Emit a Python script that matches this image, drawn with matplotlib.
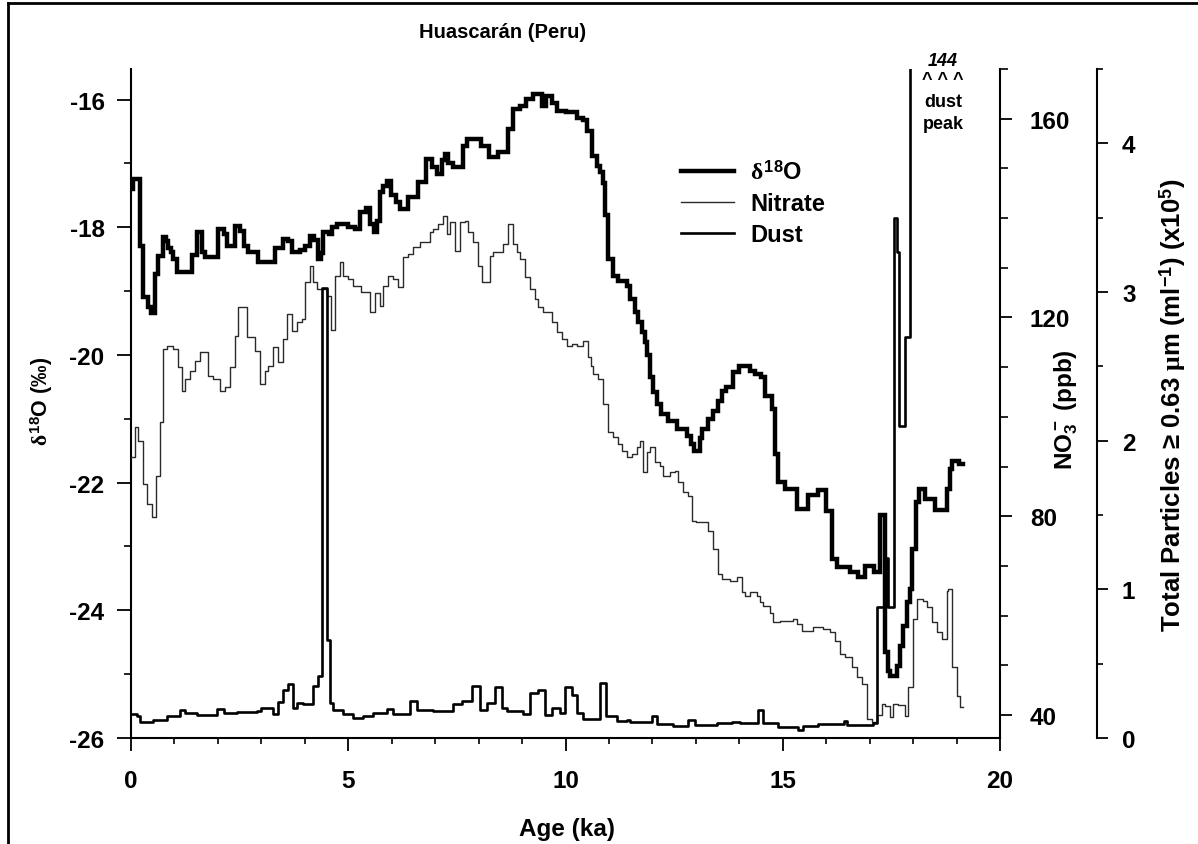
import numpy as np
import matplotlib
matplotlib.use("Agg")
import matplotlib.pyplot as plt
from matplotlib.lines import Line2D
from matplotlib.ticker import MultipleLocator

# ---------------------------------------------------------------- data
# Huascaran ice core records, step values (age in ka BP at start of each step)
d18o_age = [0.00, 0.05, 0.21, 0.28, 0.38, 0.45, 0.55, 0.63, 0.74, 0.80, 0.86, 0.92,
            0.97, 1.05, 1.40, 1.51, 1.63, 1.70, 2.00, 2.15, 2.20, 2.40, 2.50, 2.60,
            2.70, 2.93, 3.31, 3.50, 3.62, 3.70, 3.90, 4.00, 4.12, 4.22, 4.30, 4.37,
            4.42, 4.55, 4.62, 4.75, 5.00, 5.15, 5.27, 5.40, 5.50, 5.60, 5.67, 5.73,
            5.80, 5.90, 5.98, 6.10, 6.18, 6.38, 6.60, 6.80, 6.92, 7.05, 7.15, 7.22,
            7.30, 7.40, 7.65, 7.73, 8.05, 8.25, 8.45, 8.68, 8.80, 8.95, 9.10, 9.25,
            9.45, 9.55, 9.70, 9.80, 10.00, 10.27, 10.40, 10.50, 10.60, 10.72, 10.80,
            10.87, 10.92, 10.98, 11.10, 11.20, 11.42, 11.48, 11.60, 11.67, 11.76,
            11.83, 11.88, 11.95, 12.02, 12.10, 12.20, 12.35, 12.57, 12.80, 12.88,
            12.95, 13.10, 13.15, 13.28, 13.40, 13.50, 13.60, 13.70, 13.85, 14.00,
            14.25, 14.35, 14.50, 14.60, 14.75, 14.82, 14.90, 15.05, 15.33, 15.58,
            15.80, 16.00, 16.13, 16.25, 16.55, 16.73, 16.90, 17.10, 17.24, 17.36,
            17.42, 17.47, 17.63, 17.70, 17.77, 17.85, 17.92, 17.98, 18.06, 18.13,
            18.27, 18.50, 18.78, 18.84, 18.90, 19.05]
d18o_val = [-17.40, -17.25, -18.29, -19.09, -19.25, -19.35, -18.73, -18.45, -18.15,
            -18.22, -18.32, -18.38, -18.50, -18.70, -18.43, -18.07, -18.38, -18.47,
            -18.03, -18.10, -18.29, -17.98, -18.05, -18.29, -18.38, -18.54, -18.32,
            -18.18, -18.22, -18.39, -18.35, -18.29, -18.14, -18.20, -18.50, -18.40,
            -18.07, -18.10, -18.00, -17.95, -18.00, -18.03, -17.76, -17.70, -17.95,
            -18.07, -17.90, -17.44, -17.35, -17.27, -17.50, -17.60, -17.71, -17.52,
            -17.29, -16.93, -17.05, -17.17, -16.95, -16.85, -17.00, -17.05, -16.73,
            -16.62, -16.73, -16.90, -16.82, -16.46, -16.15, -16.10, -15.99, -15.91,
            -16.10, -15.95, -16.05, -16.18, -16.20, -16.28, -16.32, -16.49, -16.88,
            -17.04, -17.13, -17.30, -17.80, -18.50, -18.76, -18.84, -18.92, -19.12,
            -19.33, -19.48, -19.64, -19.80, -20.00, -20.34, -20.58, -20.77, -20.92,
            -21.04, -21.16, -21.27, -21.40, -21.50, -21.30, -21.16, -21.00, -20.88,
            -20.72, -20.56, -20.50, -20.27, -20.17, -20.25, -20.30, -20.34, -20.64,
            -20.85, -21.55, -21.99, -22.10, -22.41, -22.20, -22.12, -22.44, -23.20,
            -23.32, -23.40, -23.48, -23.30, -23.40, -22.50, -24.65, -24.95, -25.03,
            -24.87, -24.56, -24.25, -23.87, -23.67, -23.04, -22.30, -22.10, -22.25,
            -22.43, -22.10, -21.79, -21.66, -21.70]
d18o_end = 19.15

nitrate_age = [0.00, 0.09, 0.17, 0.28, 0.37, 0.48, 0.58, 0.67, 0.74, 0.82, 0.97, 1.08,
               1.17, 1.24, 1.36, 1.47, 1.59, 1.77, 1.89, 2.05, 2.16, 2.28, 2.39, 2.46,
               2.67, 2.85, 2.97, 3.08, 3.15, 3.27, 3.39, 3.50, 3.59, 3.70, 3.82, 3.93,
               4.00, 4.12, 4.20, 4.28, 4.50, 4.60, 4.70, 4.81, 4.88, 5.00, 5.10, 5.30,
               5.50, 5.62, 5.73, 5.80, 5.92, 6.03, 6.15, 6.26, 6.38, 6.49, 6.65, 6.88,
               6.95, 7.07, 7.18, 7.27, 7.34, 7.46, 7.57, 7.69, 7.76, 7.87, 7.99, 8.08,
               8.26, 8.33, 8.56, 8.68, 8.80, 8.88, 8.95, 9.07, 9.18, 9.30, 9.37, 9.48,
               9.69, 9.80, 9.92, 10.03, 10.15, 10.26, 10.40, 10.52, 10.58, 10.63,
               10.75, 10.87, 10.98, 11.10, 11.20, 11.30, 11.41, 11.53, 11.65, 11.71,
               11.78, 11.87, 11.95, 12.06, 12.17, 12.24, 12.40, 12.52, 12.59, 12.70,
               12.82, 12.90, 13.00, 13.28, 13.40, 13.51, 13.60, 13.79, 13.95, 14.06,
               14.13, 14.25, 14.40, 14.47, 14.55, 14.70, 14.78, 14.94, 15.10, 15.24,
               15.33, 15.44, 15.70, 15.93, 16.09, 16.20, 16.32, 16.43, 16.59, 16.71,
               16.82, 16.94, 17.05, 17.17, 17.28, 17.35, 17.47, 17.54, 17.65, 17.81,
               17.88, 18.00, 18.09, 18.23, 18.32, 18.43, 18.55, 18.66, 18.78, 18.80,
               18.90, 19.00, 19.08]
nitrate_val = [91.9, 98.0, 95.2, 86.5, 82.5, 79.9, 88.1, 99.0, 113.7, 114.3, 113.7,
               110.0, 105.2, 107.6, 109.3, 111.3, 113.1, 108.3, 107.6, 105.2, 106.0,
               110.0, 116.3, 122.1, 116.1, 113.3, 106.6, 109.3, 110.3, 114.1, 111.1,
               115.7, 120.7, 117.3, 119.1, 119.7, 127.2, 130.4, 127.2, 125.8, 124.4,
               117.5, 128.4, 131.2, 128.4, 127.8, 126.4, 125.2, 121.1, 125.0, 122.3,
               126.4, 128.4, 127.8, 126.2, 132.2, 132.8, 134.2, 135.2, 137.2, 137.8,
               138.9, 140.5, 136.8, 139.3, 133.4, 139.3, 139.5, 137.2, 135.2, 130.4,
               127.2, 132.4, 133.2, 134.8, 138.9, 134.8, 133.2, 131.8, 128.2, 125.8,
               123.8, 122.1, 121.1, 119.1, 117.1, 115.7, 114.3, 114.7, 114.3, 115.3,
               112.1, 110.3, 108.7, 107.6, 102.6, 97.0, 96.0, 94.6, 93.2, 91.9, 92.5,
               94.0, 95.2, 88.9, 93.0, 94.0, 90.9, 90.1, 88.1, 88.9, 89.1, 86.9, 84.9,
               84.1, 79.1, 78.9, 77.0, 73.4, 68.4, 67.4, 67.0, 67.8, 64.8, 64.0, 64.8,
               64.0, 62.8, 62.0, 60.5, 58.7, 58.9, 58.9, 59.3, 58.3, 56.9, 57.7, 57.3,
               56.7, 54.9, 52.3, 51.7, 49.7, 47.7, 46.2, 39.2, 38.6, 40.0, 42.2, 41.8,
               39.6, 42.2, 42.0, 39.8, 45.6, 59.3, 63.4, 62.9, 61.7, 58.7, 56.7, 55.3,
               65.0, 65.4, 49.7, 43.9, 41.6]
nitrate_end = 19.15

dust_age = [0.00, 0.13, 0.20, 0.50, 0.82, 1.13, 1.24, 1.52, 1.97, 2.13, 2.43, 2.90,
            3.00, 3.27, 3.39, 3.50, 3.62, 3.73, 3.82, 3.97, 4.20, 4.30, 4.39, 4.51,
            4.58, 4.65, 4.88, 5.10, 5.35, 5.57, 5.90, 6.03, 6.42, 6.58, 6.95, 7.41,
            7.62, 7.85, 8.03, 8.19, 8.38, 8.54, 8.65, 9.02, 9.18, 9.37, 9.53, 9.69,
            9.87, 9.99, 10.15, 10.26, 10.40, 10.80, 10.93, 11.18, 11.41, 11.48, 12.00,
            12.10, 12.47, 12.82, 12.98, 13.49, 13.83, 14.02, 14.43, 14.55, 14.90,
            15.35, 15.47, 15.80, 16.40, 16.48, 17.08, 17.17, 17.38, 17.43, 17.55,
            17.63, 17.68, 17.82, 17.92]
dust_val = [0.16, 0.15, 0.11, 0.12, 0.15, 0.19, 0.17, 0.155, 0.195, 0.17, 0.175, 0.18,
            0.20, 0.16, 0.24, 0.32, 0.36, 0.20, 0.235, 0.23, 0.35, 0.42, 3.03, 0.66,
            0.235, 0.19, 0.16, 0.135, 0.15, 0.17, 0.195, 0.16, 0.25, 0.19, 0.18, 0.23,
            0.25, 0.35, 0.19, 0.235, 0.34, 0.20, 0.18, 0.16, 0.30, 0.32, 0.155, 0.20,
            0.17, 0.34, 0.29, 0.17, 0.13, 0.37, 0.15, 0.115, 0.12, 0.105, 0.15, 0.095,
            0.08, 0.12, 0.085, 0.10, 0.11, 0.10, 0.19, 0.10, 0.075, 0.055, 0.08, 0.095,
            0.115, 0.09, 0.10, 0.88, 1.21, 0.88, 3.50, 3.27, 2.10, 2.70, 144.0]
dust_end = 18.00

x_ticks = [0, 5, 10, 15, 20]


def step_series(ages, values, end):
    """Close the last step of a record at its end age."""
    return np.append(ages, end), np.append(values, values[-1])


# ---------------------------------------------------------------- style
plt.rcParams["font.family"] = ["Liberation Sans", "DejaVu Sans"]
plt.rcParams["font.weight"] = "bold"
plt.rcParams["axes.unicode_minus"] = False
plt.rcParams["mathtext.fontset"] = "custom"
plt.rcParams["mathtext.rm"] = "Liberation Sans:bold"
plt.rcParams["mathtext.bf"] = "Liberation Sans:bold"
plt.rcParams["mathtext.it"] = "Liberation Serif"

FS = 17.5

fig = plt.figure(figsize=(11.98, 8.45), dpi=100)
W, H = 1198.0, 845.0
ax = fig.add_axes([131 / W, 1 - 739 / H, 869 / W, 669 / H])
ax_no3 = ax.twinx()
ax_dust = ax.twinx()

# ---------------------------------------------------------------- traces
xa, ya = step_series(d18o_age, d18o_val, d18o_end)
l_d18o, = ax.plot(xa, ya, drawstyle="steps-post", color="black", lw=3.2,
                  solid_joinstyle="miter", label=r"$\delta^{18}$O")
xn, yn = step_series(nitrate_age, nitrate_val, nitrate_end)
l_no3, = ax_no3.plot(xn, yn, drawstyle="steps-post", color="#2a2a2a", lw=1.0,
                     label="Nitrate")
xd, yd = step_series(dust_age, dust_val, dust_end)
l_dust, = ax_dust.plot(xd, yd, drawstyle="steps-post", color="black", lw=1.9,
                       label="Dust")

# ---------------------------------------------------------------- axes
ax.set_xlim(0, 20)
ax.set_ylim(-26, -15.52)
ax_no3.set_ylim(35.37, 170)
ax_dust.set_ylim(0, 4.5)

for s in ("top", "right"):
    ax.spines[s].set_visible(False)
for a in (ax_no3, ax_dust):
    for s in ("top", "left", "bottom"):
        a.spines[s].set_visible(False)
ax_no3.spines["right"].set_position(("axes", 1.0))
ax_dust.spines["right"].set_position(("axes", 1.1116))
for a in (ax, ax_no3, ax_dust):
    for sp in a.spines.values():
        sp.set_linewidth(1.5)

ax.set_xticks(x_ticks)
ax.xaxis.set_minor_locator(MultipleLocator(1))
ax.yaxis.set_major_locator(MultipleLocator(2))
ax.yaxis.set_minor_locator(MultipleLocator(1))
ax.tick_params(axis="x", which="major", direction="out", length=9.5, width=1.3,
               labelsize=FS, pad=13)
ax.tick_params(axis="x", which="minor", direction="out", length=4, width=1.2)
ax.tick_params(axis="y", which="major", direction="out", length=10, width=1.3,
               labelsize=FS, pad=9)
ax.tick_params(axis="y", which="minor", direction="out", length=5, width=1.2)

ax_no3.yaxis.set_major_locator(MultipleLocator(40))
ax_no3.yaxis.set_minor_locator(MultipleLocator(10))
ax_no3.tick_params(axis="y", which="major", direction="out", length=8.5, width=1.3,
                   labelsize=FS, pad=13)
ax_no3.tick_params(axis="y", which="minor", direction="out", length=5.5, width=1.2)

ax_dust.yaxis.set_major_locator(MultipleLocator(1))
ax_dust.yaxis.set_minor_locator(MultipleLocator(0.5))
ax_dust.tick_params(axis="y", which="major", direction="out", length=8, width=1.3,
                    labelsize=FS, pad=10)
ax_dust.tick_params(axis="y", which="minor", direction="out", length=4.5, width=1.2)

for lab in ax.get_xticklabels() + ax.get_yticklabels() + \
        ax_no3.get_yticklabels() + ax_dust.get_yticklabels():
    lab.set_fontweight("bold")

# ---------------------------------------------------------------- labels
ax.set_xlabel("Age (ka)", fontsize=FS, fontweight="bold")
ax.xaxis.set_label_coords(0.5015, -0.136)
ax.xaxis.label.set_va("center")

ax.set_ylabel(r"$\delta^{18}$O (‰)", fontsize=15.5, fontweight="bold")
ax.yaxis.set_label_coords(-0.1024, 0.505)
ax.yaxis.label.set_va("center")

ax_no3.set_ylabel(r"NO$_3^-$ (ppb)", fontsize=FS, fontweight="bold")
ax_no3.yaxis.set_label_coords(1.076, 0.492)
ax_no3.yaxis.label.set_va("center")

ax_dust.set_ylabel(r"Total Particles ≥ 0.63 $\mu$m (ml$^{-1}$) (x10$^5$)",
                   fontsize=18.5, fontweight="bold")
ax_dust.yaxis.set_label_coords(1.1991, 0.4993)
ax_dust.yaxis.label.set_va("center")

fig.text(503 / W, 1 - 32 / H, "Huascarán (Peru)", ha="center", va="center",
         fontsize=14.5, fontweight="bold")

# off-scale dust maximum
peak_x = 0.9344
ax.text(peak_x, 1.012, f"{dust_val[-1]:.0f}", transform=ax.transAxes,
        ha="center", va="center", fontsize=13, fontweight="bold", style="italic")
ax.text(peak_x, 0.985, "^ ^ ^", transform=ax.transAxes, ha="center",
        va="center", fontsize=13, fontweight="bold")
ax.text(peak_x, 0.952, "dust", transform=ax.transAxes, ha="center",
        va="center", fontsize=13, fontweight="bold")
ax.text(peak_x, 0.918, "peak", transform=ax.transAxes, ha="center",
        va="center", fontsize=13, fontweight="bold")

# legend
ax.legend(handles=[l_d18o, l_no3, l_dust], loc="upper left",
          bbox_to_anchor=(681 / W, 1 - 161 / H), bbox_transform=fig.transFigure,
          frameon=False, fontsize=17, handlelength=2.25, handletextpad=0.68,
          labelspacing=0.35, borderpad=0, borderaxespad=0)

# page frame
fig.add_artist(Line2D([8 / W, 8 / W], [0, 1 - 4 / H], transform=fig.transFigure,
                      color="black", lw=2))
fig.add_artist(Line2D([8 / W, 1], [1 - 4 / H, 1 - 4 / H], transform=fig.transFigure,
                      color="black", lw=2))

fig.savefig("out.png", dpi=100, facecolor="white")
